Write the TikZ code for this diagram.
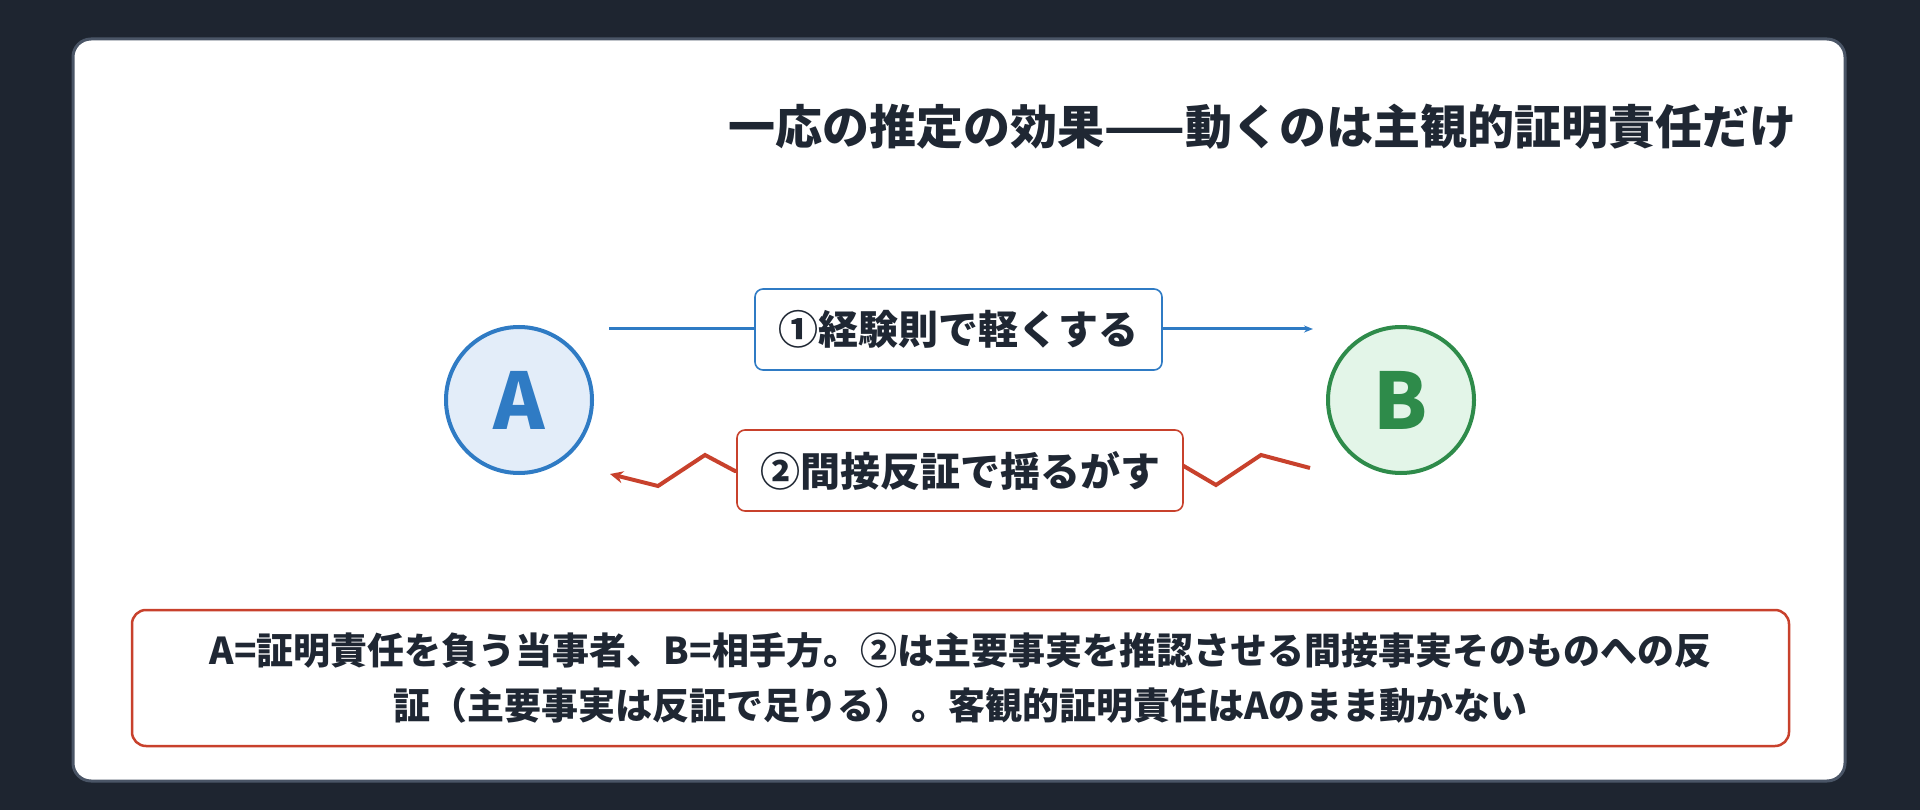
\documentclass[tikz,border=0pt]{standalone}
\usepackage{fontspec}
\setmainfont{Noto Sans CJK JP}
\usetikzlibrary{arrows.meta}
\definecolor{bg}{HTML}{1E2530}
\definecolor{edge}{HTML}{4A5566}
\definecolor{ink}{HTML}{1F2733}
\definecolor{blu}{HTML}{2F7BC4}
\definecolor{blufill}{HTML}{E3EDF9}
\definecolor{grn}{HTML}{2E8B4A}
\definecolor{grnfill}{HTML}{E3F5E8}
\definecolor{red}{HTML}{C8412C}
\tikzset{
 circ/.style={circle,minimum size=146pt,line width=4pt,inner sep=0pt,font=\fontsize{78}{78}\selectfont\bfseries},
 lab/.style={draw,fill=white,rounded corners=8pt,line width=1.6pt,text=ink,font=\fontsize{40}{44}\selectfont\bfseries,inner sep=0pt},
}
\begin{document}
\begin{tikzpicture}[x=1pt,y=-1pt]
\useasboundingbox (0,0) rectangle (1920,810);
\fill[bg] (0,0) rectangle (1920,810);
\draw[fill=white,draw=edge,line width=3pt,rounded corners=18pt] (73,39) rectangle (1845,781);
\node[anchor=east,text=ink,font=\fontsize{47}{50}\selectfont\bfseries] (title) at (1800,127) {一応の推定の効果——動くのは主観的証明責任だけ};
\node[circ,draw=blu,fill=blufill,text=blu] (A) at (519,400) {A};
\node[circ,draw=grn,fill=grnfill,text=grn] (B) at (1401,400) {B};
\coordinate (a1) at (609,329);
\coordinate (b1) at (1313,329);
\draw[blu,line width=3pt,-{Stealth[length=9pt,width=7pt]}] (a1) -- (b1);
\node[lab,draw=blu,minimum width=407pt,minimum height=81pt] (L1) at (958.5,329.5) {①経験則で軽くする};
\coordinate (z1) at (1310,468);
\coordinate (z2) at (1261,455);
\coordinate (z3) at (1216,485);
\coordinate (z4) at (1182,465);
\coordinate (z5) at (735,471);
\coordinate (z6) at (705,455);
\coordinate (z7) at (658,486);
\coordinate (z8) at (610,474);
\draw[red,line width=4pt,-{Stealth[length=13pt,width=12pt]}] (z1)--(z2)--(z3)--(z4)--(z5)--(z6)--(z7)--(z8);
\node[lab,draw=red,minimum width=446pt,minimum height=81pt] (L2) at (960,470.5) {②間接反証で揺るがす};
\node[draw=red,fill=white,rounded corners=14pt,line width=2.5pt,minimum width=1657pt,minimum height=136pt,text=ink,align=center,font=\fontsize{37}{55}\selectfont\bfseries] (note) at (960.5,678) {A=証明責任を負う当事者、B=相手方。②は主要事実を推認させる間接事実そのものへの反\\証（主要事実は反証で足りる）。客観的証明責任はAのまま動かない};
\end{tikzpicture}
\end{document}
